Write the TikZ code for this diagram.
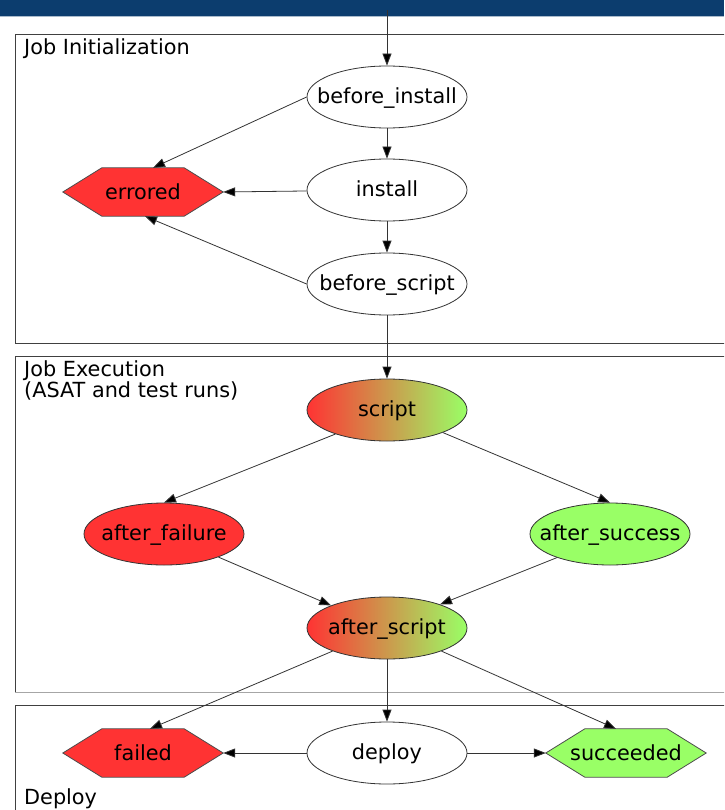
\documentclass[tikz,border=0pt]{standalone}
\usepackage{fontspec}
\setmainfont{DejaVu Sans}
\usetikzlibrary{shapes.geometric,arrows.meta,calc}
\pgfdeclarelayer{background}
\pgfsetlayers{background,main}
\definecolor{gvred}{HTML}{FF3333}
\definecolor{gvgreen}{HTML}{99FF66}
\definecolor{barblue}{HTML}{0C3D6E}
\definecolor{edgegray}{HTML}{333333}
\newcommand\ctext[1]{\makebox[0pt]{\raisebox{-6.5pt}[0pt][0pt]{#1}}}
\newcommand\hexpath[1]{(#1.west) -- ([xshift=39pt]#1.north west) -- ([xshift=-39pt]#1.north east) -- (#1.east) -- ([xshift=-39pt]#1.south east) -- ([xshift=39pt]#1.south west) -- cycle}
\begin{document}
\begin{tikzpicture}[x=1pt,y=-1pt,
  every node/.style={font=\fontsize{20.8}{22}\selectfont},
  ovalbase/.style={ellipse, draw=edgegray, line width=0.8pt, minimum width=160pt, minimum height=62pt, inner sep=0pt},
  oval/.style={ovalbase, fill=white},
  redoval/.style={ovalbase, fill=gvred},
  greenoval/.style={ovalbase, fill=gvgreen},
  gradoval/.style={ovalbase, left color=gvred, right color=gvgreen},
  hexbox/.style={rectangle, minimum width=160pt, minimum height=48pt, inner sep=0pt},
  hexshape/.style={draw=black!70, line width=0.8pt},
  flow/.style={draw=edgegray, line width=0.8pt, -{Triangle[length=12pt,width=9pt,fill=black]}},
  cluster/.style={draw=black!75, line width=1pt},
  lbl/.style={anchor=base west, inner sep=0pt}
]
\useasboundingbox (0,0) rectangle (724,810);
\clip (0,0) rectangle (724,810);

% top bar
\fill[barblue] (0,0) rectangle (724,16);
\draw[barblue!35, line width=0.8pt] (0,16.5) -- (724,16.5);

% clusters
\draw[cluster] (740,35) -- (15,35) -- (15,343) -- (740,343);
\draw[cluster] (740,356) -- (15,356) -- (15,692);
\draw[cluster, draw=black!35] (15,692) -- (740,692);
\draw[cluster] (740,705) -- (15,705) -- (15,820);

\node[lbl] (l1) at (24,55) {Job Initialization};
\node[lbl] (l2) at (24,376) {Job Execution};
\node[lbl] (l3) at (24,397) {(ASAT and test runs)};
\node[lbl] (l4) at (24,804) {Deploy};

% nodes
\coordinate (top) at (387,10);
\node[oval] (bi) at (387,97) {\ctext{before\_install}};
\node[oval] (inst) at (387,190) {\ctext{install}};
\node[oval] (bs) at (387,284) {\ctext{before\_script}};
\node[hexbox] (err) at (143,192) {errored};

\node[gradoval] (script) at (387,410) {\ctext{script}};
\node[redoval] (af) at (164,534) {\ctext{after\_failure}};
\node[greenoval] (as) at (610,534) {\ctext{after\_success}};
\node[gradoval] (asc) at (387,628) {\ctext{after\_script}};

\node[hexbox] (failed) at (143,753) {failed};
\node[oval] (deploy) at (387,753) {\ctext{deploy}};
\node[hexbox] (succ) at (626,753) {succeeded};

\begin{pgfonlayer}{background}
\filldraw[hexshape, fill=gvred] \hexpath{err};
\filldraw[hexshape, fill=gvred] \hexpath{failed};
\filldraw[hexshape, fill=gvgreen] \hexpath{succ};
\end{pgfonlayer}

% edges
\draw[flow] (top) -- (bi);
\draw[flow] (bi) -- (inst);
\draw[flow] (inst) -- (bs);
\draw[flow] (bs) -- (script);
\draw[flow] (bi.west) -- ([xshift=10pt]err.north);
\draw[flow] (inst) -- (err.east);
\draw[flow] (bs.west) -- ([xshift=2pt]err.south);
\draw[flow] (script.205) -- (af.north);
\draw[flow] (script.338) -- (as.north);
\draw[flow] (af.337) -- (asc.158);
\draw[flow] (as.204) -- (asc.24);
\draw[flow] (asc.203) -- ([xshift=7pt]failed.north);
\draw[flow] (asc) -- (deploy);
\draw[flow] (asc.337) -- ([xshift=-10pt]succ.north);
\draw[flow] (deploy) -- (failed.east);
\draw[flow] (deploy) -- (succ.west);
\end{tikzpicture}
\end{document}
